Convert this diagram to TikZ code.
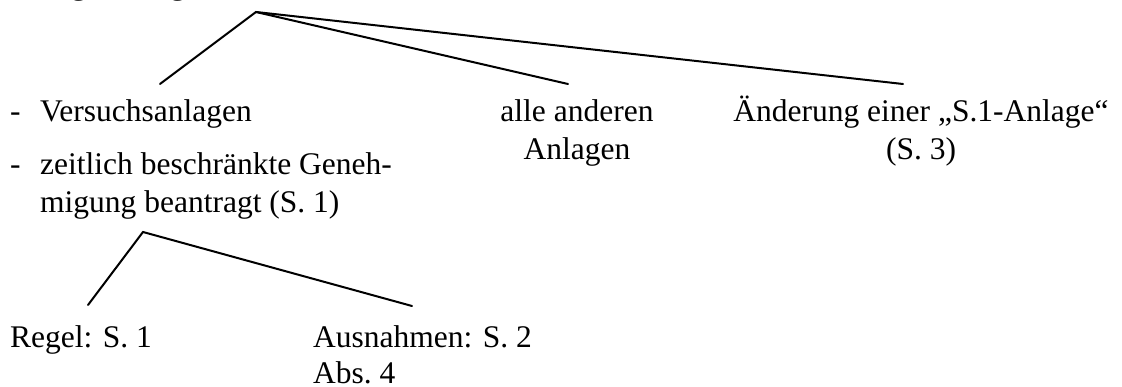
\documentclass[tikz,border=0pt]{standalone}
\usepackage{fontspec}
\setmainfont{Liberation Serif}
\begin{document}
\begin{tikzpicture}[x=1pt,y=-1pt,
  txt/.style={inner sep=0pt, font=\fontsize{31.5}{35}\selectfont},
  branch/.style={line width=2pt, line cap=round}]
\useasboundingbox (0,0) rectangle (1122,387);

% descenders of the line above, cut by the frame
\begin{scope}
  \clip (0,0) rectangle (1122,387);
  \node[txt,anchor=base west] (g1) at (71,-5.5) {g};
  \node[txt,anchor=base west] (g2) at (170,-5.5) {g};
\end{scope}

% first level
\node[txt,anchor=base west] (d1) at (10,122) {-};
\node[txt,anchor=base west] (versuch) at (40,122) {Versuchsanlagen};
\node[txt,anchor=base west] (d2) at (10,175) {-};
\node[txt,anchor=base west] (zeit1) at (40,175) {zeitlich beschränkte Geneh-};
\node[txt,anchor=base west] (zeit2) at (40,213) {migung beantragt (S.~1)};
\node[txt,anchor=base] (alle1) at (577,122) {alle anderen};
\node[txt,anchor=base] (alle2) at (577,160) {Anlagen};
\node[txt,anchor=base] (aend1) at (921,122) {Änderung einer „S.1-Anlage“};
\node[txt,anchor=base] (aend2) at (921,160) {(S.~3)};

% second level
\node[txt,anchor=base west] (regel) at (10,348) {Regel: S.~1};
\node[txt,anchor=base west] (aus1) at (313,348) {Ausnahmen: S.~2};
\node[txt,anchor=base west] (aus2) at (313,383) {Abs.~4};

% branch points and line ends
\coordinate (top) at (256,12);
\coordinate (topA) at (160,84);
\coordinate (topB) at (568,84);
\coordinate (topC) at (903,84);
\coordinate (sub) at (143,232);
\coordinate (subA) at (88,305);
\coordinate (subB) at (412,306);

\draw[branch] (topA) -- (top) -- (topB);
\draw[branch] (top) -- (topC);
\draw[branch] (subA) -- (sub) -- (subB);
\end{tikzpicture}
\end{document}
